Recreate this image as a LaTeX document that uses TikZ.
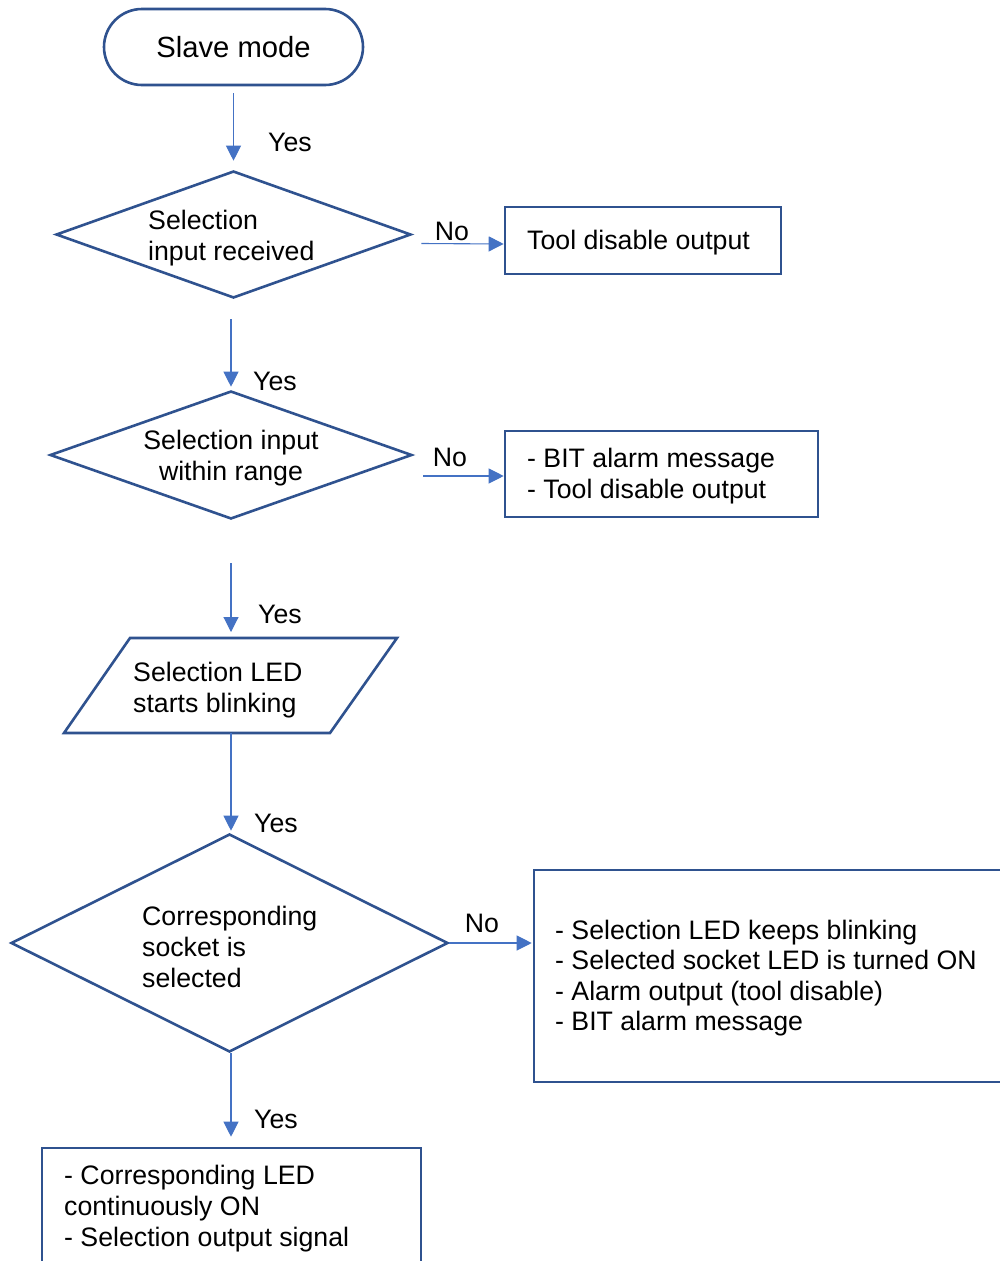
\documentclass[tikz,border=0pt]{standalone}
\usepackage{fontspec}
\setmainfont{Liberation Sans}
\usetikzlibrary{shapes.geometric,arrows.meta,calc}
\definecolor{outl}{HTML}{2F528F}
\definecolor{conn}{HTML}{4472C4}
\begin{document}
\begin{tikzpicture}[x=1pt,y=-1pt,
  shp/.style={draw=outl,line width=2.6pt,inner sep=0pt},
  dia/.style={shp,diamond},
  boxs/.style={shp,rectangle},
  txt/.style={inner sep=0pt,font=\fontsize{26.7}{31}\selectfont,align=left,text=black},
  arr/.style={draw=conn,line width=1.1pt,-{Triangle[length=15pt,width=15pt]}}]
\clip (0,0) rectangle (1000,1261);
\fill[white] (0,0) rectangle (1000,1261);

% shapes
\node[shp,rectangle,rounded corners=38pt,minimum width=259pt,minimum height=76pt,
      font=\fontsize{29.2}{34}\selectfont] (start) at (233.5,47) {\raisebox{-1.5pt}{Slave mode}};
\node[dia,minimum width=355pt,minimum height=127pt] (d1) at (233.5,234.5) {};
\node[boxs,minimum width=276pt,minimum height=67pt] (b1) at (643,240.5) {};
\node[dia,minimum width=362pt,minimum height=128pt] (d2) at (231,455) {};
\node[boxs,minimum width=313pt,minimum height=86pt] (b2) at (661.5,474) {};
\draw[outl,line width=2.6pt,line join=miter] (130,638) -- (397,638) -- (330,733) -- (64,733) -- cycle;
\coordinate (pn) at (231,638);
\coordinate (ps) at (231,733);
\node[dia,minimum width=437pt,minimum height=218pt] (d3) at (229.5,943) {};
\node[boxs,minimum width=476pt,minimum height=212pt] (b3) at (772,976) {};
\node[boxs,minimum width=379pt,minimum height=142pt] (b4) at (231.5,1219) {};

% texts
\node[txt,anchor=west] (t1) at (148,238.5) {Selection\\input received};
\node[txt,anchor=west] (tb1) at (527,243) {Tool disable output};
\node[txt,align=center] (t2) at (231,458.5) {Selection input\\within range};
\node[txt,anchor=west] (tb2) at (527,476.5) {- BIT alarm message\\- Tool disable output};
\node[txt,anchor=west] (tp) at (133,690.5) {Selection LED\\starts blinking};
\node[txt,anchor=west] (t3) at (142,947) {Corresponding\\socket is\\selected};
\node[txt,anchor=west,font=\fontsize{26.7}{30.5}\selectfont] (tb3) at (555,978) {- Selection LED keeps blinking\\- Selected socket LED is turned ON\\- Alarm output (tool disable)\\- BIT alarm message};
\node[txt,anchor=west] (tb4) at (64,1209) {- Corresponding LED\\continuously ON\\- Selection output signal};

% connectors
\draw[arr,shorten <=7pt,shorten >=9pt] (start.south) -- (d1.north);
\draw[arr,shorten <=20pt,shorten >=3pt] (d2.north |- d1.south) -- (d2.north);
\draw[arr] ($(d1.east)+(9,9)$) -- ($(b1.west)+(0,3.5)$);
\draw[arr] ($(d2.east)+(10,21)$) -- ($(b2.west)+(0,2)$);
\draw[arr,shorten <=43pt,shorten >=6pt] (d2.south) -- (pn);
\draw[arr,shorten >=2pt] (ps) -- (ps |- d3.north);
\draw[arr,shorten >=1pt] (d3.east) -- (d3.east -| b3.west);
\draw[arr,shorten >=10pt] (ps |- d3.south) -- (ps |- b4.north);

% labels
\node[txt] (y1) at (290,142) {Yes};
\node[txt] (y2) at (275,381) {Yes};
\node[txt] (y3) at (280,614) {Yes};
\node[txt] (y4) at (276,823) {Yes};
\node[txt] (y5) at (276,1119) {Yes};
\node[txt] (n1) at (452,231) {No};
\node[txt] (n2) at (450,457) {No};
\node[txt] (n3) at (482,923) {No};
\end{tikzpicture}
\end{document}
